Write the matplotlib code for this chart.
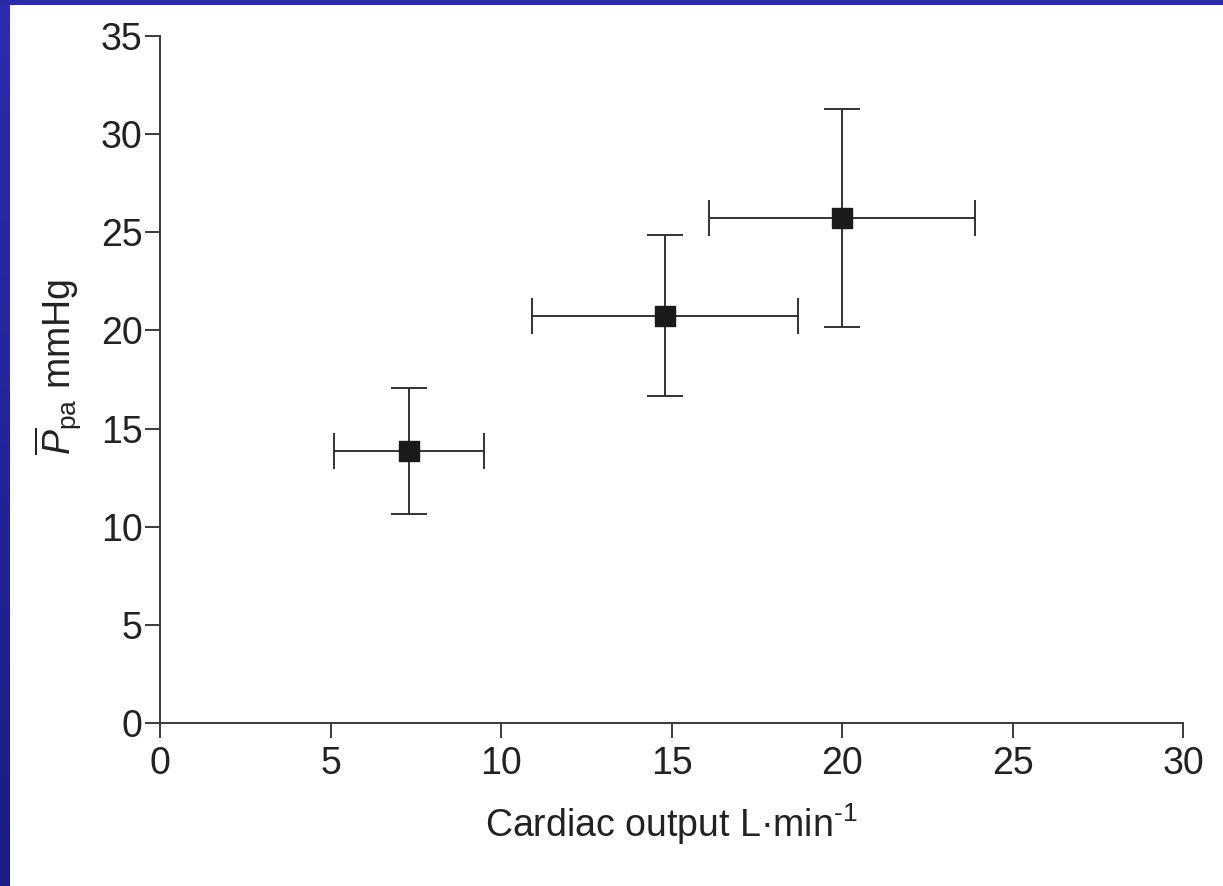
import numpy as np
import matplotlib
matplotlib.use("Agg")
import matplotlib.pyplot as plt
from matplotlib.patches import Rectangle
from matplotlib.colors import LinearSegmentedColormap

plt.rcParams["font.family"] = ["Liberation Sans", "DejaVu Sans"]
plt.rcParams["mathtext.fontset"] = "custom"
plt.rcParams["mathtext.rm"] = "Liberation Sans"
plt.rcParams["mathtext.it"] = "Liberation Sans:italic"
plt.rcParams["mathtext.sf"] = "Liberation Sans"

# Mean pulmonary artery pressure vs cardiac output (mean ± SD)
cardiac_output = [7.3, 14.8, 20.0]
co_err = [2.2, 3.9, 3.9]
ppa = [13.85, 20.75, 25.75]
ppa_err = [3.2, 4.1, 5.55]

x_ticks = [0, 5, 10, 15, 20, 25, 30]
y_ticks = [0, 5, 10, 15, 20, 25, 30, 35]

W, H = 1223, 886
fig = plt.figure(figsize=(W / 100, H / 100), dpi=100, facecolor="white")

# slide frame: blue band along the top and a shaded strip down the left side
fig.patches.append(Rectangle((0, 1 - 5 / H), 1, 5 / H, transform=fig.transFigure,
                             facecolor="#2a2aa6", edgecolor="none", zorder=0))
band = fig.add_axes([0, 0, 10 / W, 1])
grad = np.linspace(0, 1, 256).reshape(-1, 1)
cmap = LinearSegmentedColormap.from_list("band", ["#2c2cae", "#1c1c86"])
band.imshow(grad, aspect="auto", cmap=cmap, extent=[0, 1, 0, 1], origin="upper")
band.set_axis_off()

ax = fig.add_axes([160 / W, 1 - 723 / H, (1183 - 160) / W, (723 - 36) / H])
ink = "#222222"
ax.errorbar(cardiac_output, ppa, xerr=co_err, yerr=ppa_err, fmt="s",
            color="#1a1a1a", ecolor="#333333", elinewidth=1.4, capsize=13,
            capthick=1.4, markersize=15, zorder=3)

ax.set_xlim(0, 30)
ax.set_ylim(0, 35)
ax.set_xticks(x_ticks)
ax.set_yticks(y_ticks)
for side in ("top", "right"):
    ax.spines[side].set_visible(False)
for side in ("left", "bottom"):
    ax.spines[side].set_color("#3a3a3a")
    ax.spines[side].set_linewidth(1.4)
ax.tick_params(axis="both", direction="out", length=10.5, width=1.4, color="#3a3a3a",
               labelsize=27, labelcolor=ink)
ax.tick_params(axis="x", pad=6)
ax.tick_params(axis="y", pad=2)

ax.set_xlabel("Cardiac output L·min$^{\\mathrm{\u20101}}$", fontsize=27, color=ink, labelpad=14)
ax.set_ylabel(r"$\overline{P}_{\mathrm{pa}}$ mmHg", fontsize=27, color=ink, labelpad=13)
ax.yaxis.label.set_y(0.518)

fig.savefig("out.png", dpi=100, facecolor="white")
